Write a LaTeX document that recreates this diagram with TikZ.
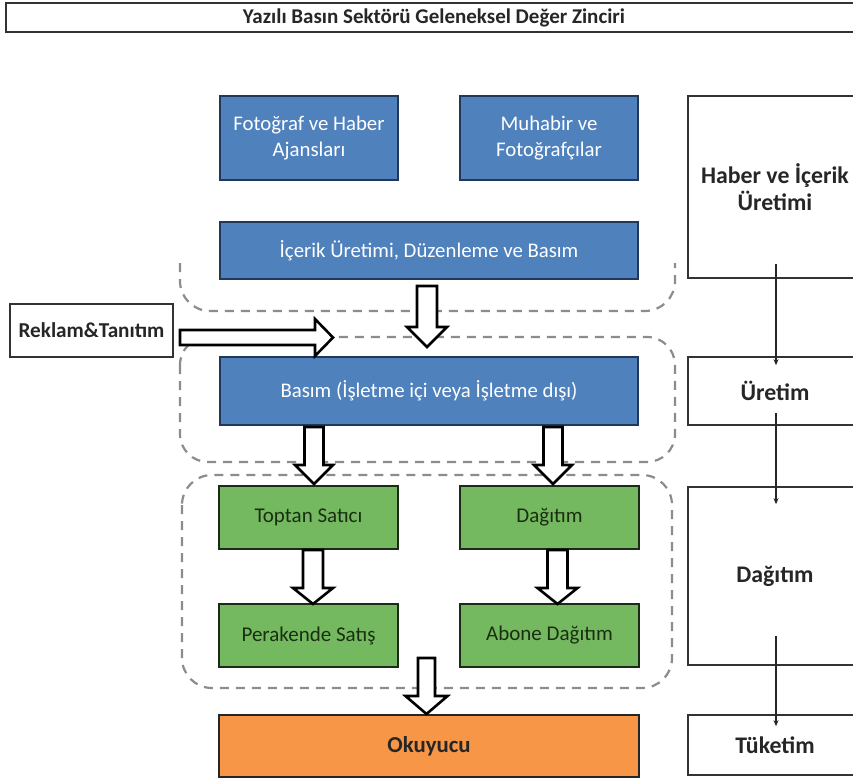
\documentclass[tikz,border=0pt]{standalone}
\usepackage{fontspec}
\setmainfont{Carlito}
\usetikzlibrary{arrows.meta,calc}
\definecolor{bfill}{HTML}{4F81BD}
\definecolor{bdraw}{HTML}{22385A}
\definecolor{gfill}{HTML}{74B95F}
\definecolor{gdraw}{HTML}{1E2A18}
\definecolor{gtext}{HTML}{1A2E12}
\definecolor{ofill}{HTML}{F79646}
\definecolor{dgray}{HTML}{8C8C8C}
\newcommand\blkdown[6]{% x, ytop, yhead, ytip, shaft half, head half
  \draw[blockarrow] (#1-#5,#2) -- (#1+#5,#2) -- (#1+#5,#3) -- (#1+#6,#3) -- (#1,#4) -- (#1-#6,#3) -- (#1-#5,#3) -- cycle;}
\begin{document}
\begin{tikzpicture}[x=1pt,y=-1pt,
  box/.style={draw=black!85, line width=1.6pt, align=center, inner sep=0pt},
  bluebox/.style={box, fill=bfill, draw=bdraw, text=white, font=\fontsize{20.8}{25.5}\selectfont},
  greenbox/.style={box, fill=gfill, draw=gdraw, text=gtext, font=\fontsize{21}{25.5}\selectfont},
  orangebox/.style={box, fill=ofill, draw=black!85, text=black!85, font=\bfseries\fontsize{22.8}{27}\selectfont},
  sidebox/.style={box, fill=white, draw=black!80, text=black!85, font=\bfseries\fontsize{23.8}{26.5}\selectfont},
  blockarrow/.style={draw=black, line width=2.6pt, fill=white, line join=miter},
  region/.style={draw=dgray, line width=2.2pt, dash pattern=on 9pt off 7pt},
  thinarrow/.style={draw=black!85, line width=1.1pt, -{Stealth[length=6pt,width=5pt]}}
]
\useasboundingbox (0,0) rectangle (853,781);
\clip (0,0) rectangle (853,781);
\fill[white] (0,0) rectangle (853,781);

% title
\node[box, draw=black!80, line width=2pt, minimum width=856pt, minimum height=29pt,
      font=\bfseries\fontsize{21}{24}\selectfont, text=black!85] (title) at (434,17.5)
      {Yazılı Basın Sektörü Geleneksel Değer Zinciri};

% dashed regions
\draw[region, rounded corners=30pt] (180,263) -- (180,311) -- (675,311) -- (675,263);
\draw[region, rounded corners=28pt] (180,337) rectangle (675,462);
\draw[region, rounded corners=30pt] (182,475) rectangle (672,688);

% blue boxes
\node[bluebox, minimum width=178pt, minimum height=84pt] (f1) at (309,138) {Fotoğraf ve Haber\\Ajansları};
\node[bluebox, minimum width=178pt, minimum height=84pt] (f2) at (549,138) {Muhabir ve\\Fotoğrafçılar};
\node[bluebox, minimum width=418pt, minimum height=57pt] (ic) at (429,250.5) {İçerik Üretimi, Düzenleme ve Basım};
\node[bluebox, minimum width=418pt, minimum height=68pt] (bs) at (429,391) {Basım (İşletme içi veya İşletme dışı)};

% green boxes
\node[greenbox, minimum width=179pt, minimum height=63pt] (tp) at (308.5,517.5) {Toptan Satıcı};
\node[greenbox, minimum width=179pt, minimum height=63pt] (dg) at (549.5,517.5) {Dağıtım};
\node[greenbox, minimum width=179pt, minimum height=63pt] (pk) at (308.5,635.5) {Perakende Satış};
\node[greenbox, minimum width=179pt, minimum height=63pt] (ab) at (549.5,635.5) {Abone Dağıtım};

% orange box
\node[orangebox, minimum width=420pt, minimum height=62pt] (ok) at (429,746) {Okuyucu};

% reklam box
\node[sidebox, font=\bfseries\fontsize{21.2}{24}\selectfont, minimum width=163pt, minimum height=53pt] (rk) at (91.5,330.5) {Reklam\&Tanıtım};

% right column
\node[sidebox, minimum width=174pt, minimum height=182pt] (r1) at (775,187) {Haber ve İçerik\\Üretimi};
\node[sidebox, minimum width=174pt, minimum height=68pt] (r2) at (775,391) {Üretim};
\node[sidebox, minimum width=174pt, minimum height=178pt] (r3) at (775,576) {Dağıtım};
\node[sidebox, minimum width=174pt, minimum height=60pt] (r4) at (775,745) {Tüketim};

\draw[thinarrow] ($(r1.south)+(1,-15)$) -- ($(r2.north)+(1,9)$);
\draw[thinarrow] ($(r2.south)+(1,-13)$) -- ($(r3.north)+(1,18)$);
\draw[thinarrow] ($(r3.south)+(1,-30)$) -- ($(r4.north)+(1,12)$);

% block arrows
\blkdown{427}{286}{327}{347}{10}{20}
\blkdown{314}{427}{465}{484}{9.5}{19}
\blkdown{553}{427}{465}{484}{9.5}{19}
\blkdown{313}{550}{588}{604}{10}{20}
\blkdown{557.5}{550}{588}{604}{10}{20}
\blkdown{426.5}{658}{696}{714}{8.5}{21}
\draw[blockarrow] (180,330) -- (315,330) -- (315,319) -- (333,337.5) -- (315,356) -- (315,345) -- (180,345) -- cycle;
\end{tikzpicture}
\end{document}
